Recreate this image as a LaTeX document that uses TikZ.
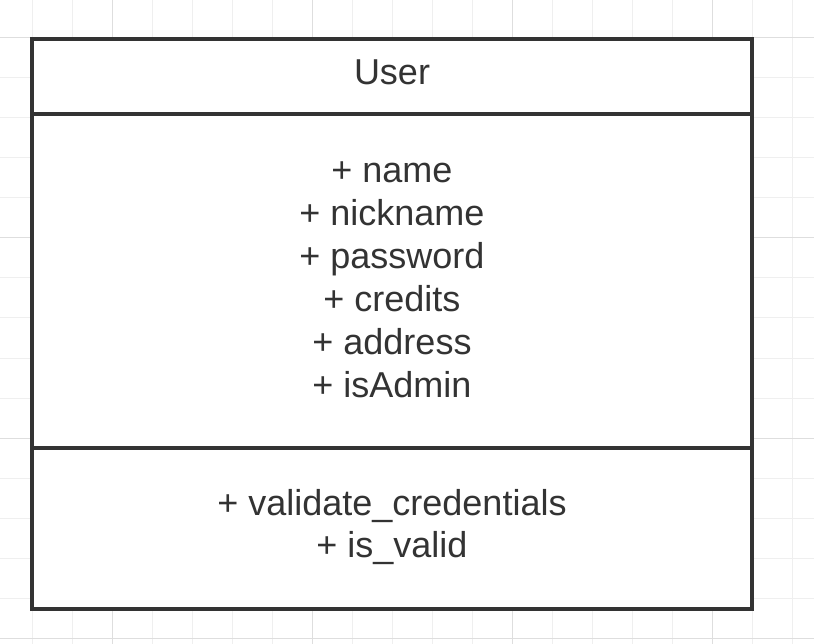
\documentclass[tikz,border=0pt]{standalone}
\usepackage{fontspec}
\setmainfont{Liberation Sans}
\usepackage[HTML]{xcolor}
\usetikzlibrary{positioning}
\definecolor{umldark}{HTML}{333333}
\definecolor{gridminor}{HTML}{EFEFEF}
\definecolor{gridmajor}{HTML}{DEDEDE}

\tikzset{
  minorline/.style={gridminor, line width=1pt},
  majorline/.style={gridmajor, line width=1pt},
  boxline/.style={umldark, line width=4pt},
  member/.style={text=umldark, font=\fontsize{36}{43}\selectfont, inner sep=0pt, anchor=base}
}

\begin{document}
\begin{tikzpicture}[x=1pt,y=-1pt]
\useasboundingbox (0,0) rectangle (814,644);

% Background grid
\foreach \x in {32,72,...,792} \draw[minorline] (\x,0) -- (\x,644);
\foreach \y in {38,78,...,638} \draw[minorline] (0,\y) -- (814,\y);
\foreach \x in {112,312,512,712} \draw[majorline] (\x,0) -- (\x,644);
\foreach \y in {38,238,438,638} \draw[majorline] (0,\y) -- (814,\y);

% The class box with its three compartments
\fill[white] (32,39) rectangle (752,609);
\draw[boxline] (32,114) -- (752,114);
\draw[boxline] (32,448) -- (752,448);
\draw[boxline] (32,39) rectangle (752,609);

% Class name
\node[member] (classname) at (392,85) {User};

% Attributes
\foreach \t [count=\i] in {name,nickname,password,credits,address,isAdmin}
  \node[member] (attr\i) at (392,{183+42.8*(\i-1)}) {+ \t};

% Operations
\node[member] (op1) at (392,515) {+ validate\_credentials};
\node[member] (op2) at (392,557.8) {+ is\_valid};
\end{tikzpicture}
\end{document}
